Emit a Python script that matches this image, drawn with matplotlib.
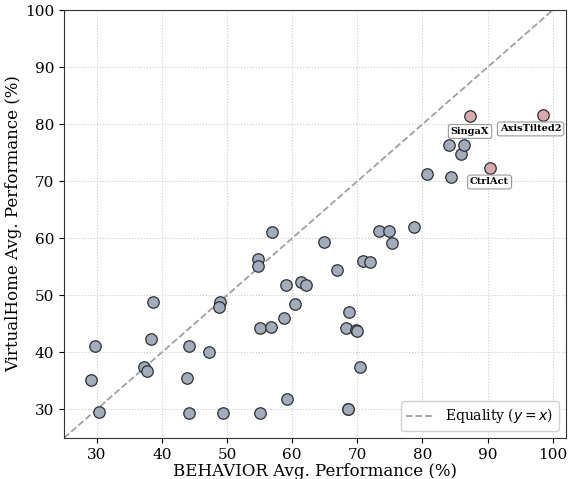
import matplotlib
matplotlib.use("Agg")
import matplotlib.pyplot as plt

plt.rcParams["font.family"] = ["DejaVu Serif"]
plt.rcParams["mathtext.fontset"] = "dejavusans"

# BEHAVIOR (x) vs VirtualHome (y) averages, regular methods
behavior = [29.2, 29.8, 30.3, 37.2, 37.7, 38.3, 38.6, 43.9, 44.2, 44.2,
            47.3, 49.0, 48.8, 49.4, 54.7, 54.7, 55.1, 55.1, 56.9, 56.8,
            58.8, 59.0, 59.2, 60.5, 61.4, 62.2, 64.9, 66.9, 68.3, 68.5,
            68.6, 68.7, 69.8, 69.9, 70.4, 70.9, 71.9, 73.3, 74.9, 75.3,
            78.7, 80.7, 84.1, 84.4, 85.9, 86.4]
virtualhome = [35.1, 41.1, 29.5, 37.5, 36.8, 42.3, 48.9, 35.6, 41.1, 29.3,
               40.0, 48.9, 47.9, 29.3, 56.3, 55.1, 44.2, 29.3, 61.1, 44.4,
               46.0, 51.9, 31.9, 48.4, 52.3, 51.8, 59.3, 54.4, 44.2, 30.0,
               30.0, 47.0, 44.0, 43.8, 37.5, 56.1, 55.8, 61.2, 61.2, 59.1,
               61.9, 71.2, 76.3, 70.7, 74.7, 76.3]

# highlighted methods
hl_names = ["SingaX", "AxisTilted2", "CtrlAct"]
hl_behavior = [87.3, 98.5, 90.3]
hl_virtualhome = [81.4, 81.6, 72.3]
hl_offsets = [(0, -11), (-9, -10), (0, -10)]

fig = plt.figure(figsize=(5.69, 4.79), dpi=100)
ax = fig.add_axes([0.1125, 0.0856, 0.882, 0.8934])

ax.plot([25, 102], [25, 102], ls="--", color="#a0a0a0", lw=1.3,
        label="Equality ($y = x$)", zorder=1)

ax.scatter(behavior, virtualhome, s=68, color="#a3acbb",
           edgecolors="#2f2f2f", linewidths=0.9, zorder=3)
ax.scatter(hl_behavior, hl_virtualhome, s=68, color="#d7a9b0",
           edgecolors="#2f2f2f", linewidths=0.9, zorder=4)

for name, x, y, off in zip(hl_names, hl_behavior, hl_virtualhome, hl_offsets):
    ax.annotate(name, (x, y), xytext=off, textcoords="offset points",
                ha="center", va="center", fontsize=7, fontweight="bold",
                bbox=dict(boxstyle="round,pad=0.25", fc="white",
                          ec="#999999", lw=0.8), zorder=5)

ax.set_xlim(25, 102)
ax.set_ylim(25, 100)
ax.set_xticks(range(30, 101, 10))
ax.set_yticks(range(30, 101, 10))
ax.tick_params(labelsize=11)
ax.set_xlabel("BEHAVIOR Avg. Performance (%)", fontsize=12, labelpad=1)
ax.set_ylabel("VirtualHome Avg. Performance (%)", fontsize=12, labelpad=2)
ax.grid(True, ls=":", color="#cccccc", lw=0.8)
ax.set_axisbelow(True)
for sp in ax.spines.values():
    sp.set_color("#333333")

ax.legend(loc="lower right", fontsize=10, framealpha=0.9)

fig.savefig("out.png", dpi=100)
